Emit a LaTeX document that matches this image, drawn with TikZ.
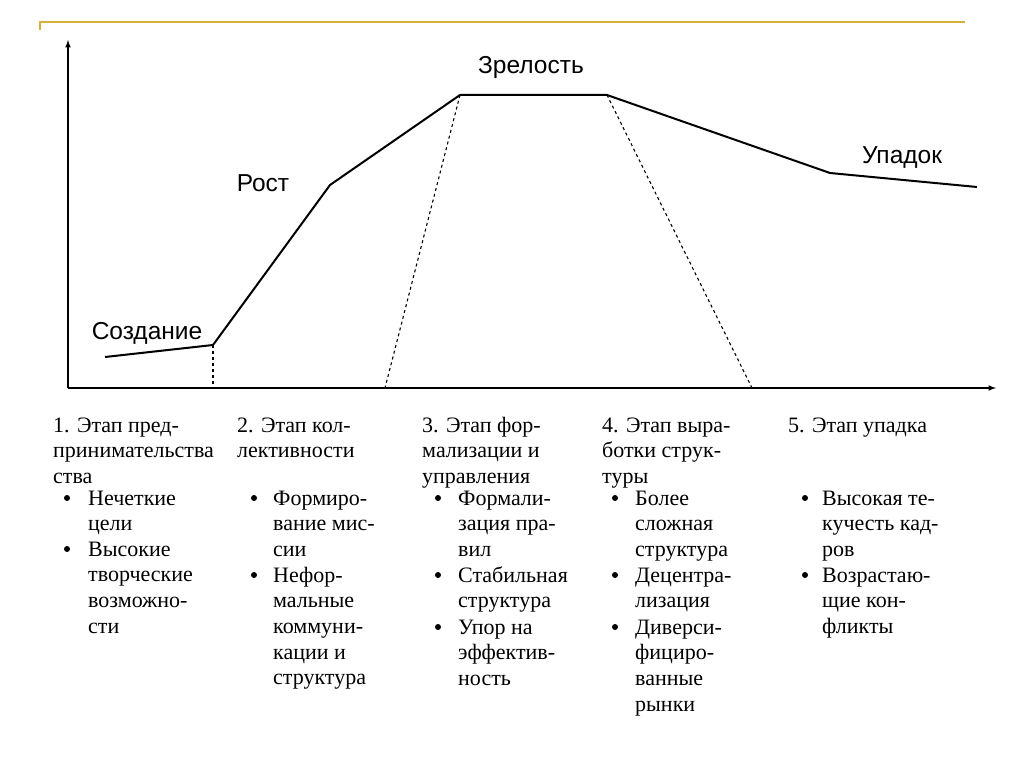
\documentclass[tikz,border=0pt]{standalone}
\usepackage{fontspec}
\setmainfont{Liberation Serif}
\newfontfamily\lsans{Liberation Sans}
\begin{document}
\begin{tikzpicture}[x=1pt,y=-1pt,
 txt/.style={anchor=north west,align=left,inner sep=0pt,font=\fontsize{22}{25.7}\selectfont},
 bul/.style={circle,fill=black,inner sep=0pt,minimum size=6pt},
 lab/.style={font=\lsans\fontsize{24.5}{28}\selectfont,inner sep=0pt},
 curve/.style={line width=2pt},
 dashln/.style={dashed,line width=1.1pt}]
\useasboundingbox (0,0) rectangle (1024,767);
\draw[color={rgb,255:red,214;green,176;blue,60},line width=1.8pt] (40,30) -- (40,22) -- (965,22);
\coordinate (o) at (68,388);
\coordinate (ytop) at (68,40);
\coordinate (xend) at (996,388);
\draw[line width=1.5pt,-latex] (o) -- (ytop);
\draw[line width=1.5pt,-latex] (o) -- (xend);
\coordinate (p0) at (105,357);
\coordinate (p1) at (213,345);
\coordinate (p2) at (330,185);
\coordinate (p3) at (460,95);
\coordinate (p4) at (607,95);
\coordinate (p5) at (830,173);
\coordinate (p6) at (977,187);
\draw[curve,line join=round] (p0)--(p1)--(p2)--(p3)--(p4)--(p5)--(p6);
\coordinate (d1) at (213,388);
\coordinate (d2) at (385,388);
\coordinate (d3) at (752,388);
\draw[dashln] (p1)--(d1);
\draw[dashln] (p3)--(d2);
\draw[dashln] (p4)--(d3);
\node[lab] (l1) at (147,333) {Создание};
\node[lab] (l2) at (263,183) {Рост};
\node[lab] (l3) at (531,67) {Зрелость};
\node[lab] (l4) at (902,158) {Упадок};
% column 1
\node[txt] (h1) at (53,414) {\strut 1. Этап пред-\\принимательства\\ства};
\node[bul] (b11) at (67,498) {};
\node[txt] (t11) at (88,487) {\strut Нечеткие\\цели};
\node[bul] (b12) at (67,549) {};
\node[txt] (t12) at (88,538) {\strut Высокие\\творческие\\возможно-\\сти};
% column 2
\node[txt] (h2) at (237,414) {\strut 2. Этап кол-\\лективности};
\node[bul] (b21) at (254,498) {};
\node[txt] (t21) at (273,487) {\strut Формиро-\\вание мис-\\сии};
\node[bul] (b22) at (254,575) {};
\node[txt] (t22) at (273,564) {\strut Нефор-\\мальные\\коммуни-\\кации и\\структура};
% column 3
\node[txt] (h3) at (422,414) {\strut 3. Этап фор-\\мализации и\\управления};
\node[bul] (b31) at (438,498) {};
\node[txt] (t31) at (458,487) {\strut Формали-\\зация пра-\\вил};
\node[bul] (b32) at (438,575) {};
\node[txt] (t32) at (458,564) {\strut Стабильная\\структура};
\node[bul] (b33) at (438,627) {};
\node[txt] (t33) at (458,616) {\strut Упор на\\эффектив-\\ность};
% column 4
\node[txt] (h4) at (602,414) {\strut 4. Этап выра-\\ботки струк-\\туры};
\node[bul] (b41) at (615,498) {};
\node[txt] (t41) at (635,487) {\strut Более\\сложная\\структура};
\node[bul] (b42) at (615,575) {};
\node[txt] (t42) at (635,564) {\strut Децентра-\\лизация};
\node[bul] (b43) at (615,627) {};
\node[txt] (t43) at (635,616) {\strut Диверси-\\фициро-\\ванные\\рынки};
% column 5
\node[txt] (h5) at (788,414) {\strut 5. Этап упадка};
\node[bul] (b51) at (805,498) {};
\node[txt] (t51) at (822,487) {\strut Высокая те-\\кучесть кад-\\ров};
\node[bul] (b52) at (805,575) {};
\node[txt] (t52) at (822,564) {\strut Возрастаю-\\щие кон-\\фликты};
\end{tikzpicture}
\end{document}
